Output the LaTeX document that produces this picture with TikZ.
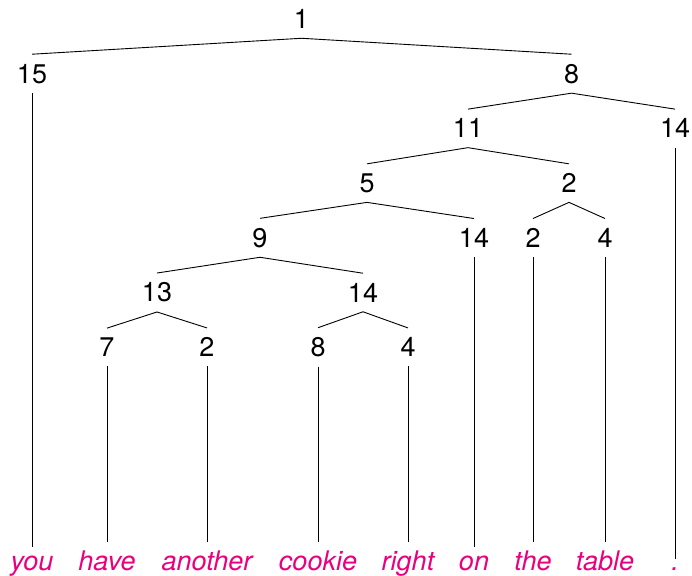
\documentclass[tikz,border=0pt]{standalone}
\usepackage{fontspec}
\setmainfont{TeX Gyre Heros}
\definecolor{wordpink}{RGB}{232,0,128}
\begin{document}
\begin{tikzpicture}[x=1pt,y=-1pt,
  num/.style={font=\fontsize{27}{32}\selectfont, inner xsep=2pt, inner ysep=9.5pt},
  word/.style={font=\fontsize{27}{32}\selectfont\itshape, text=wordpink, anchor=base, inner xsep=2pt, inner ysep=8.5pt},
  br/.style={line width=0.9pt, black}]
\useasboundingbox (0,0) rectangle (692,575);
% internal nodes
\node[num] (n1)  at (301.5,19) {1};
\node[num] (n15) at (32,73.7) {15};
\node[num] (n8)  at (571.5,73.7) {8};
\node[num] (n11) at (468,128.4) {11};
\node[num] (n14a) at (675,128.4) {14};
\node[num] (n5)  at (367,183.1) {5};
\node[num] (n2a) at (569,183.1) {2};
\node[num] (n9)  at (260,237.8) {9};
\node[num] (n14b) at (474,237.8) {14};
\node[num] (n2b) at (533,237.8) {2};
\node[num] (n4a) at (605,237.8) {4};
\node[num] (n13) at (157,292.5) {13};
\node[num] (n14c) at (363,292.5) {14};
\node[num] (n7)  at (107,347.2) {7};
\node[num] (n2c) at (207,347.2) {2};
\node[num] (n8b) at (318,347.2) {8};
\node[num] (n4b) at (408,347.2) {4};
% words
\node[word] (w1) at (32,570) {you};
\node[word] (w2) at (107,570) {have};
\node[word] (w3) at (207,570) {another};
\node[word] (w4) at (318,570) {cookie};
\node[word] (w5) at (408,570) {right};
\node[word] (w6) at (474,570) {on};
\node[word] (w7) at (533,570) {the};
\node[word] (w8) at (605,570) {table};
\node[word] (w9) at (675,570) {.};
% branches
\draw[br] (n15.north) -- (n1.south) -- (n8.north);
\draw[br] (n11.north) -- (n8.south) -- (n14a.north);
\draw[br] (n5.north) -- (n11.south) -- (n2a.north);
\draw[br] (n9.north) -- (n5.south) -- (n14b.north);
\draw[br] (n2b.north) -- (n2a.south) -- (n4a.north);
\draw[br] (n13.north) -- (n9.south) -- (n14c.north);
\draw[br] (n7.north) -- (n13.south) -- (n2c.north);
\draw[br] (n8b.north) -- (n14c.south) -- (n4b.north);
% leaf lines
\draw[br] (n15.south) -- (w1.north);
\draw[br] (n7.south) -- (w2.north);
\draw[br] (n2c.south) -- (w3.north);
\draw[br] (n8b.south) -- (w4.north);
\draw[br] (n4b.south) -- (w5.north);
\draw[br] (n14b.south) -- (w6.north);
\draw[br] (n2b.south) -- (w7.north);
\draw[br] (n4a.south) -- (w8.north);
\draw[br] (n14a.south) -- (w9.north);
\end{tikzpicture}
\end{document}
